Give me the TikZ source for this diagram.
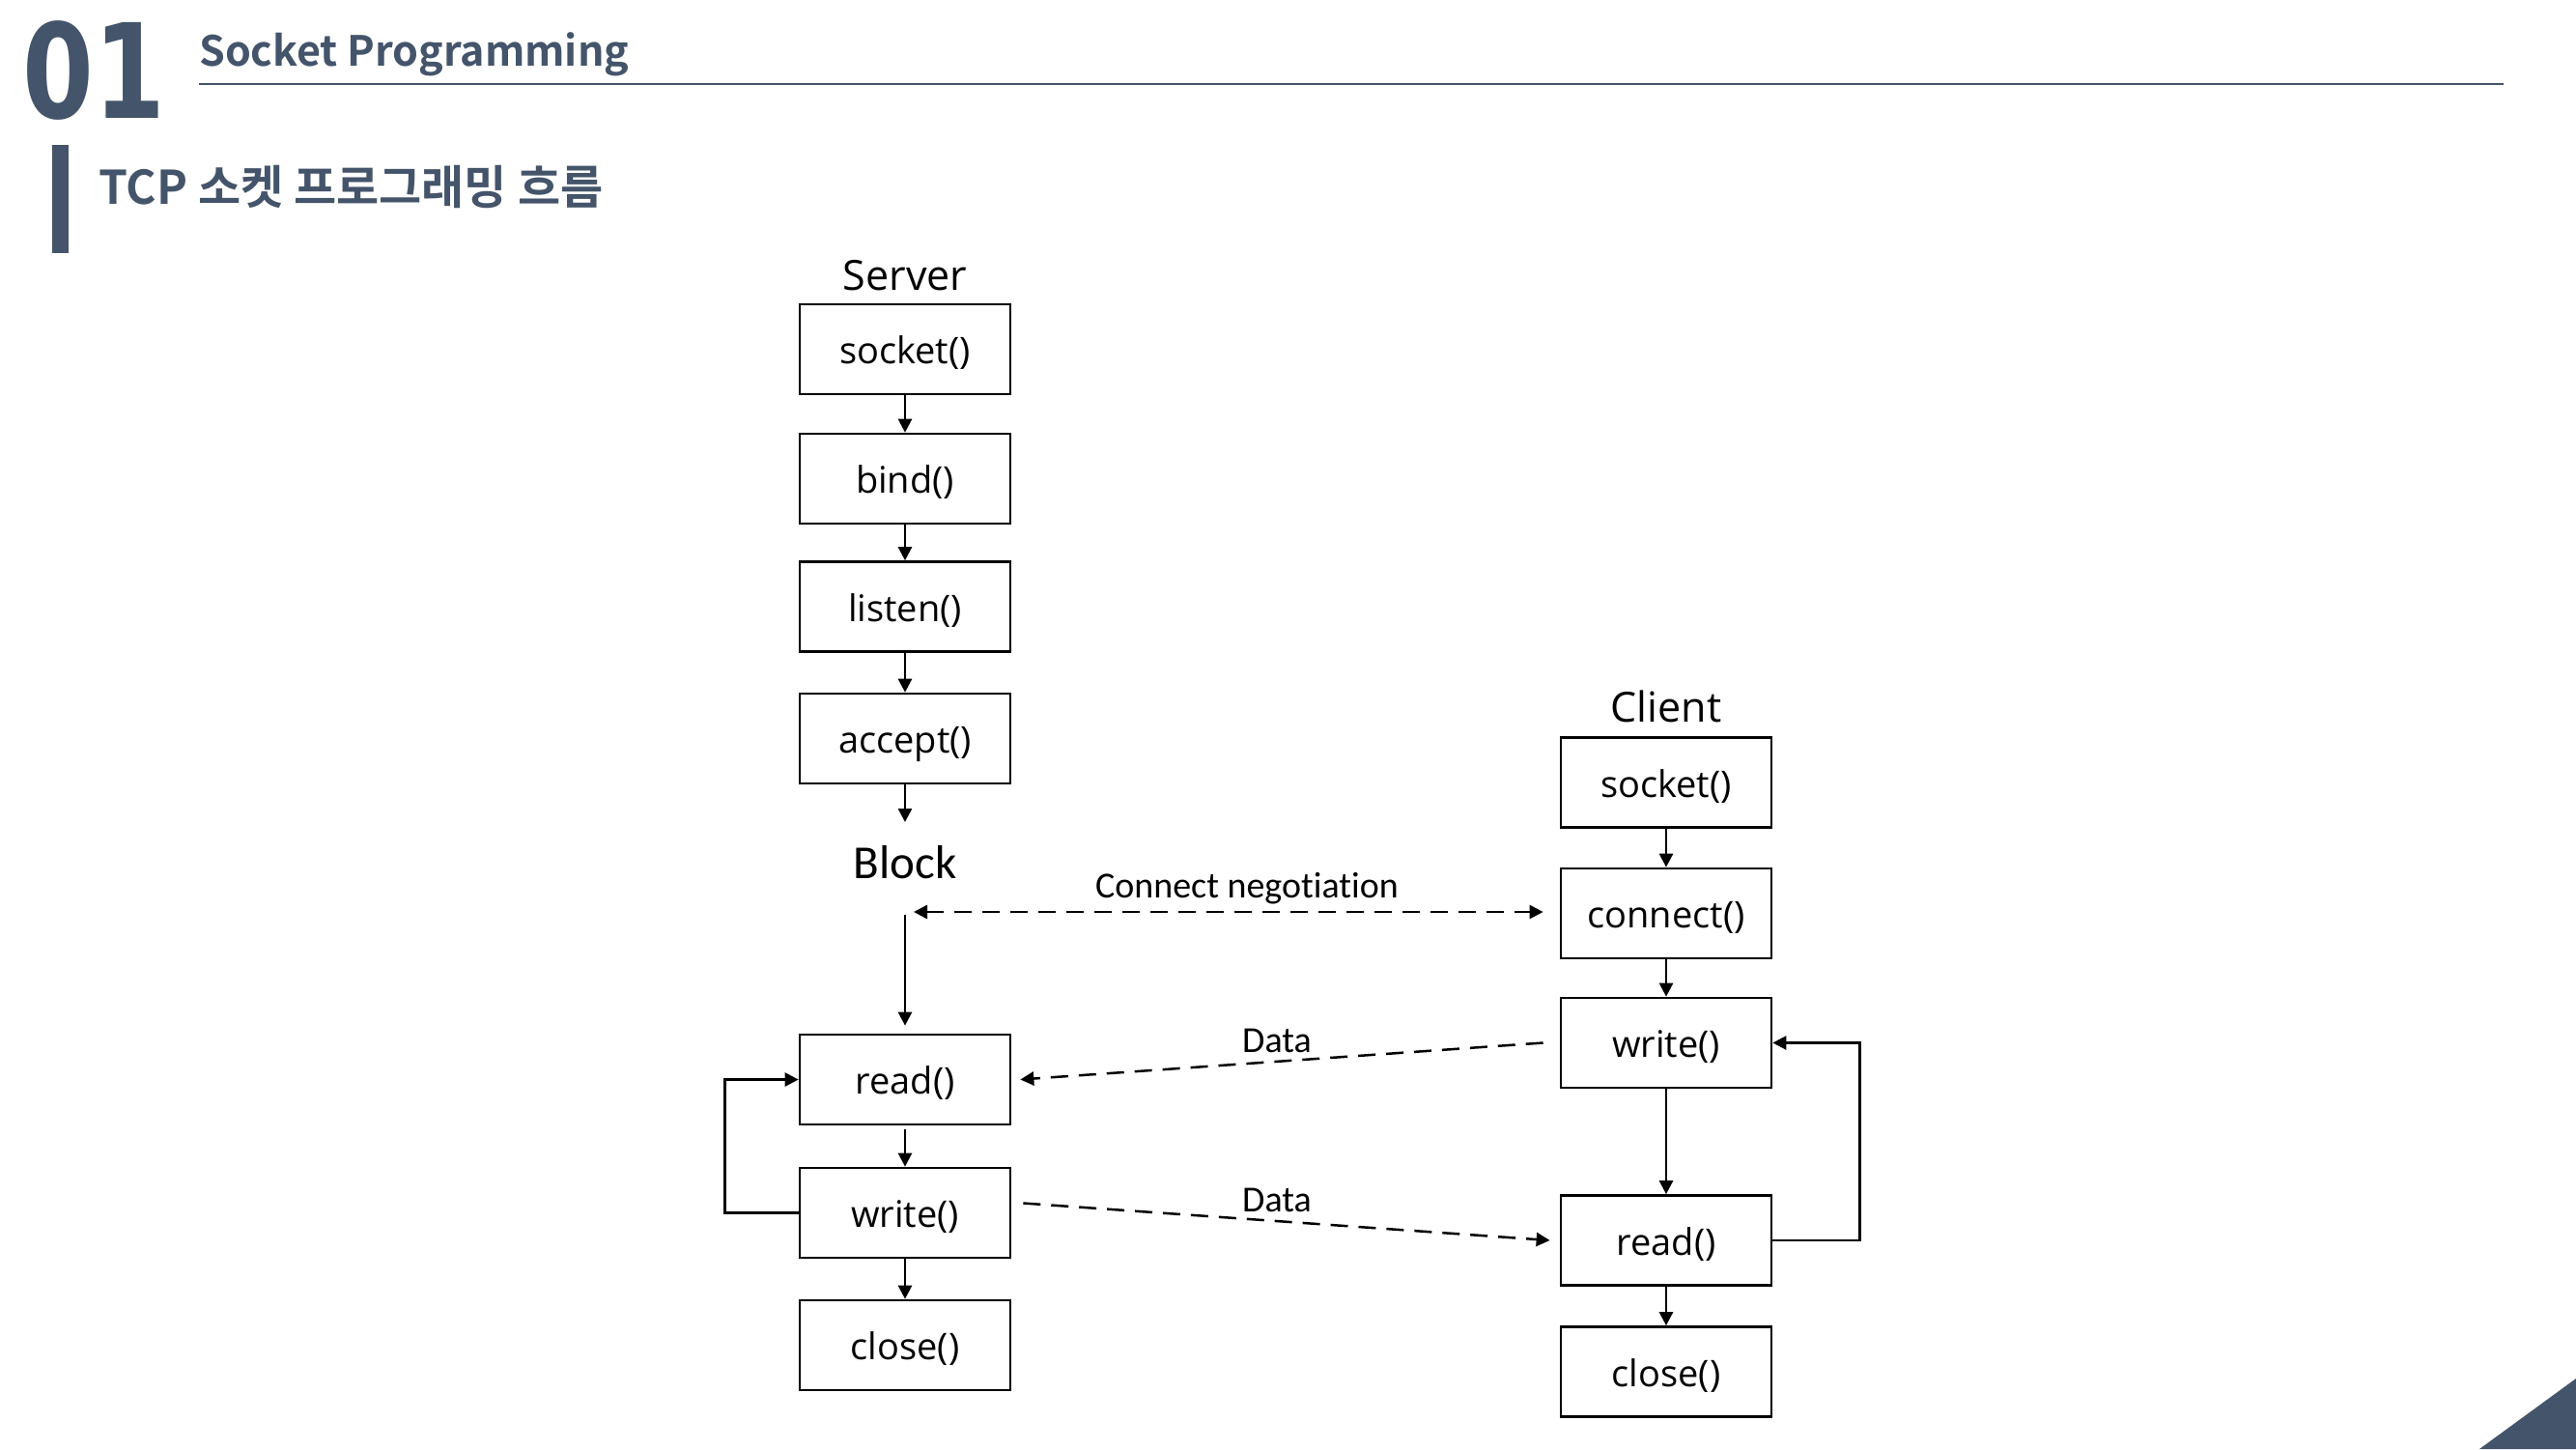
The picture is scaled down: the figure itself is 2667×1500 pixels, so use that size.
\documentclass[tikz,border=0pt]{standalone}
\usepackage{fontspec}
\usetikzlibrary{arrows.meta,calc}
\newfontfamily\krfont{Noto Sans CJK KR}[BoldFont={* Bold}]
\newfontfamily\opensans{Open Sans}
\newfontfamily\carlito{Carlito}[Ligatures=NoCommon]
\newfontfamily\dejavu{DejaVu Sans}
\definecolor{hdr}{HTML}{44546A}
\begin{document}
\begin{tikzpicture}[x=1pt,y=-1pt,
  fnbox/.style={draw, line width=2.7pt, minimum width=218pt, minimum height=93pt, inner sep=0pt,
    text height=39pt, text depth=9pt,
    font=\opensans\fontsize{38}{38}\selectfont},
  collabel/.style={inner sep=0pt, font=\opensans\fontsize{43}{43}\selectfont},
  msglabel/.style={inner sep=0pt, font=\carlito\fontsize{38}{38}\selectfont},
  arr/.style={line width=2.5pt, -{Triangle[length=14pt,width=14pt]}},
  dasharr/.style={line width=2.5pt, dash pattern=on 18pt off 11pt, -{Triangle[length=14pt,width=14pt]}},
  dasharrboth/.style={line width=2.5pt, dash pattern=on 18pt off 11pt, {Triangle[length=14pt,width=14pt]}-{Triangle[length=14pt,width=14pt]}}
]
\useasboundingbox[fill=white] (0,0) rectangle (2667,1500);

% header
\node[anchor=base west, inner sep=0pt, text=hdr, font=\dejavu\bfseries\fontsize{136}{136}\selectfont] (num) at (23,122) {\scalebox{0.78}[1]{01}};
\node[anchor=base west, inner sep=0pt, text=hdr, font=\krfont\bfseries\fontsize{43}{43}\selectfont] (title) at (206,68) {Socket Programming};
\draw[hdr, line width=2.5pt] (206,87) -- (2592,87);
\fill[hdr] (54,150) rectangle (71,262);
\node[anchor=base west, inner sep=0pt, text=hdr, font=\krfont\bfseries\fontsize{48}{48}\selectfont] (sub) at (102,211) {TCP 소켓 프로그래밍 흐름};
\fill[hdr] (2567,1500) -- (2667,1427) -- (2667,1500) -- cycle;

% server
\node[collabel] (server) at (937,285) {Server};
\node[fnbox] (ssock) at (937,361.5) {socket()};
\node[fnbox] (sbind) at (937,495.5) {bind()};
\node[fnbox] (slisten) at (937,628) {listen()};
\node[fnbox] (saccept) at (937,764.5) {accept()};
\coordinate (acc) at (937,851);
\node[inner sep=0pt, font=\carlito\fontsize{49}{49}\selectfont] (block) at (937,893) {Block};
\coordinate (blk) at (937,944);
\node[fnbox] (sread) at (937,1117.5) {read()};
\node[fnbox] (swrite) at (937,1255.5) {write()};
\node[fnbox] (sclose) at (937,1392.5) {close()};

% client
\node[collabel] (client) at (1725,731) {Client};
\node[fnbox] (csock) at (1725,810) {socket()};
\node[fnbox] (cconn) at (1725,945.5) {connect()};
\node[fnbox] (cwrite) at (1725,1079.5) {write()};
\node[fnbox] (cread) at (1725,1284) {read()};
\node[fnbox] (cclose) at (1725,1420) {close()};

% server arrows
\draw[arr] (ssock) -- (sbind);
\draw[arr] (sbind) -- (slisten);
\draw[arr] (slisten) -- (saccept);
\draw[arr] (saccept) -- (acc);
\draw[arr] ([yshift=-3pt]blk) -- ([yshift=8pt]sread.north);
\draw[arr] ([yshift=-4pt]sread.south) -- (swrite.north);
\draw[arr] (swrite) -- (sclose);
\draw[arr] (swrite.west) -- ++(-76,0) |- (sread.west);

% client arrows
\draw[arr] (csock) -- (cconn);
\draw[arr] (cconn) -- (cwrite);
\draw[arr] (cwrite) -- (cread);
\draw[arr] (cread) -- (cclose);
\draw[arr] (cread.east) -- ++(90,0) |- (cwrite.east);

% messages
\draw[dasharrboth] ([xshift=9pt]blk) -- ($(blk -| cconn.west)+(-17,0)$);
\node[msglabel] (neg) at (1291,920) {Connect negotiation};
\draw[dasharr] ([xshift=-17pt]cwrite.west) -- ([xshift=9pt]sread.east);
\node[msglabel] (data1) at (1322,1077) {Data};
\draw[dasharr] ([xshift=12pt,yshift=10pt]swrite.east) -- ([xshift=-10pt]cread.west);
\node[msglabel] (data2) at (1322,1242) {Data};
\end{tikzpicture}
\end{document}
